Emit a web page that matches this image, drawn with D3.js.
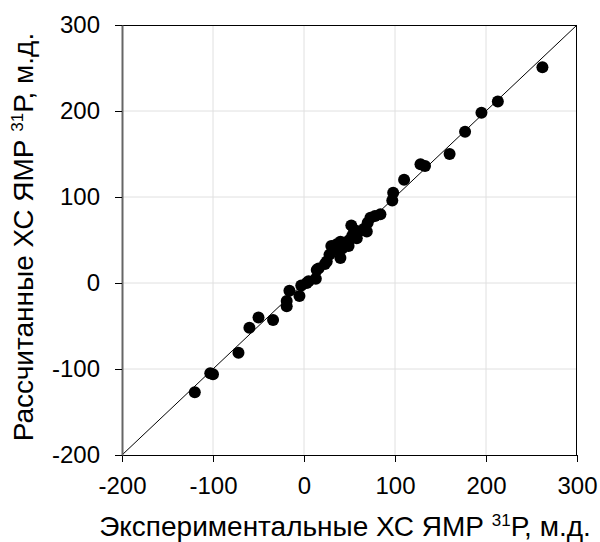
<!DOCTYPE html>
<html>
<head>
<meta charset="utf-8">
<script src="https://cdn.jsdelivr.net/npm/d3@7"></script>
<style>
  body { margin: 0; background: #fff; }
  text { font-family: "Liberation Sans", Arial, sans-serif; }
</style>
</head>
<body>
<svg id="chart" width="600" height="542"></svg>
<script>
// Experimental vs calculated 31P NMR chemical shifts (ppm)
const experimental = [-120, -103, -100, -72, -60, -50, -34, -19, -19, -16, -5, -3, 3, 5, 13, 14, 16, 23, 25, 28, 30, 32, 36, 40, 40, 42, 45, 49, 50, 52, 53, 55, 56, 58, 60, 66, 69, 70, 73, 78, 84, 97, 98, 110, 128, 133, 160, 177, 195, 213, 262];
const calculated   = [-127, -105, -106, -81, -52, -40, -43, -21, -27, -9, -15, -3, 0, 2, 5, 15, 17, 22, 25, 33, 43, 38, 45, 29, 48, 40, 47, 43, 50, 67, 55, 62, 56, 52, 60, 63, 60, 70, 76, 78, 80, 96, 105, 120, 138, 136, 150, 176, 198, 211, 251];
const tickValues = [-200, -100, 0, 100, 200, 300];
const identityLine = [-200, 300];

const svg = d3.select("#chart");
const plotLeft = 122, plotRight = 577, plotTop = 25, plotBottom = 455;

const x = d3.scaleLinear().domain([-200, 300]).range([plotLeft, plotRight]);
const y = d3.scaleLinear().domain([-200, 300]).range([plotBottom, plotTop]);
const fmt = d => String(d); // plain hyphen-minus for negatives

// grid
const grid = svg.append("g");
grid.selectAll("line.gx").data(tickValues.slice(1, -1)).join("line")
  .attr("x1", d => x(d)).attr("x2", d => x(d))
  .attr("y1", plotTop).attr("y2", plotBottom)
  .attr("stroke", "#e0e0e0").attr("stroke-width", 1);
grid.selectAll("line.gy").data(tickValues.slice(1, -1)).join("line")
  .attr("y1", d => y(d)).attr("y2", d => y(d))
  .attr("x1", plotLeft).attr("x2", plotRight)
  .attr("stroke", "#e0e0e0").attr("stroke-width", 1);

// frame (top and right)
svg.append("line").attr("x1", plotLeft).attr("x2", plotRight).attr("y1", plotTop + 0.5).attr("y2", plotTop + 0.5)
  .attr("stroke", "#000");
svg.append("line").attr("x1", plotRight - 0.5).attr("x2", plotRight - 0.5).attr("y1", plotTop).attr("y2", plotBottom)
  .attr("stroke", "#000");

// identity line
svg.append("line")
  .attr("x1", x(identityLine[0])).attr("y1", y(identityLine[0]))
  .attr("x2", x(identityLine[1])).attr("y2", y(identityLine[1]))
  .attr("stroke", "#000").attr("stroke-width", 1);

// axes
const xAxis = svg.append("g").attr("transform", `translate(0,${plotBottom})`)
  .call(d3.axisBottom(x).tickValues(tickValues).tickFormat(fmt).tickSize(7).tickSizeOuter(0).tickPadding(15));
xAxis.select(".domain").attr("stroke", "#000");
xAxis.selectAll(".tick line").attr("stroke", "#000");
xAxis.selectAll("text").attr("font-size", 24).attr("fill", "#000");

const yAxis = svg.append("g").attr("transform", `translate(${plotLeft},0)`)
  .call(d3.axisLeft(y).tickValues(tickValues).tickFormat(fmt).tickSize(7).tickSizeOuter(0).tickPadding(15));
yAxis.select(".domain").attr("stroke", "#666").attr("stroke-width", 2);
yAxis.selectAll(".tick line").attr("stroke", "#000");
yAxis.selectAll("text").attr("font-size", 24).attr("fill", "#000");

// points
svg.append("g").selectAll("circle")
  .data(experimental.map((e, i) => [e, calculated[i]]))
  .join("circle")
  .attr("cx", d => x(d[0])).attr("cy", d => y(d[1]))
  .attr("r", 6).attr("fill", "#000");

// axis titles
const xt = svg.append("text").attr("x", 345).attr("y", 536)
  .attr("text-anchor", "middle").attr("font-size", 28).attr("fill", "#000");
xt.append("tspan").text("Экспериментальные ХС ЯМР ");
xt.append("tspan").attr("font-size", 17).attr("dy", -10).text("31");
xt.append("tspan").attr("dy", 10).text("Р, м.д.");

const yt = svg.append("text").attr("transform", `translate(33,237) rotate(-90)`)
  .attr("text-anchor", "middle").attr("font-size", 28).attr("fill", "#000");
yt.append("tspan").text("Рассчитанные ХС ЯМР ");
yt.append("tspan").attr("font-size", 17).attr("dy", -10).text("31");
yt.append("tspan").attr("dy", 10).text("Р, м.д.");
</script>
</body>
</html>
